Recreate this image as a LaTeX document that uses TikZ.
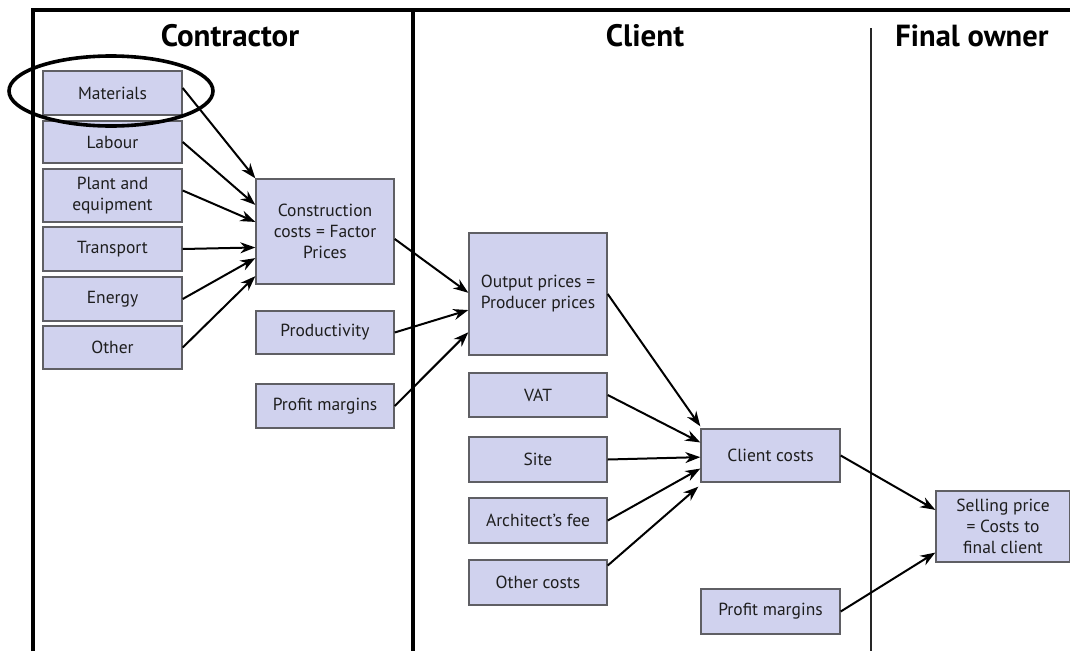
\documentclass[tikz,border=0pt]{standalone}
\usepackage{fontspec}
\setmainfont{PT Sans}
\usetikzlibrary{arrows.meta,calc,shapes.geometric}
\definecolor{boxfill}{RGB}{208,210,238}
\definecolor{boxline}{RGB}{95,95,100}
\definecolor{txt}{RGB}{30,30,30}
\tikzset{
  box/.style={draw=boxline, line width=1.4pt, fill=boxfill, text=txt, align=center,
    inner sep=0pt, font=\fontsize{17.5}{21}\selectfont},
  hdr/.style={font=\fontsize{31}{34}\selectfont\bfseries, text=black, inner sep=0pt},
  arr/.style={line width=2pt, -{Stealth[length=15pt,width=11pt]}},
  frame/.style={line width=3.6pt, black},
}
\begin{document}
\begin{tikzpicture}[x=1pt,y=-1pt]
\useasboundingbox (0,0) rectangle (1070,651);
% frame lines
\coordinate (tl) at (33,10);
\coordinate (tr) at (1070,10);
\coordinate (bl) at (33,651);
\coordinate (mt) at (413,10);
\coordinate (mb) at (413,651);
\coordinate (st) at (871,28);
\coordinate (sb) at (871,651);
\draw[frame] (bl) -- (tl) -- (tr);
\draw[frame] (mt) -- (mb);
\draw[line width=1.2pt, black!85] (st) -- (sb);
% headers
\node[hdr] (hCon) at (230,36) {Contractor};
\node[hdr] (hCli) at (645,36) {Client};
\node[hdr, font=\fontsize{30.5}{33}\selectfont\bfseries] (hFin) at (972,36) {Final owner};
% contractor inputs
\node[box, minimum width=139, minimum height=44] (mat) at (112.5,93) {Materials};
\node[box, minimum width=139, minimum height=42] (lab) at (112.5,142) {Labour};
\node[box, minimum width=139, minimum height=53] (pla) at (112.5,195.5) {Plant and\\equipment};
\node[box, minimum width=139, minimum height=44] (tra) at (112.5,249) {Transport};
\node[box, minimum width=139, minimum height=44] (ene) at (112.5,299) {Energy};
\node[box, minimum width=139, minimum height=43] (oth) at (112.5,347.5) {Other};
\node[box, minimum width=138, minimum height=105] (con) at (325,231.5) {Construction\\costs = Factor\\Prices};
\node[box, minimum width=138, minimum height=43] (pro) at (325,332.5) {Productivity};
\node[box, minimum width=138, minimum height=44] (pm1) at (325,406) {Profit margins};
% client
\node[box, minimum width=138, minimum height=122] (out) at (538,294) {Output prices =\\Producer prices};
\node[box, minimum width=138, minimum height=44] (vat) at (538,395) {VAT};
\node[box, minimum width=138, minimum height=45] (sit) at (538,459.5) {Site};
\node[box, minimum width=138, minimum height=45] (arc) at (538,520.5) {Architect’s fee};
\node[box, minimum width=138, minimum height=45] (ocs) at (538,582.5) {Other costs};
\node[box, minimum width=139, minimum height=53] (cli) at (770.5,455.5) {Client costs};
\node[box, minimum width=139, minimum height=45] (pm2) at (770.5,611.5) {Profit margins};
% final owner
\node[box, minimum width=134, minimum height=71] (sel) at (1003,526.5) {Selling price\\= Costs to\\final client};
% highlight ellipse
\node[ellipse, draw=black, line width=3.6pt, minimum width=204, minimum height=70, inner sep=0pt] (ell) at (111,91) {};
% arrows
\draw[arr] ($(mat.east)+(0,-5)$) -- (con.north west);
\draw[arr] (lab.east) -- ($(con.north west)!0.25!(con.south west)$);
\draw[arr] ($(pla.east)+(0,-5)$) -- ($(con.north west)!0.41!(con.south west)$);
\draw[arr] (tra.east) -- ($(con.north west)!0.65!(con.south west)$);
\draw[arr] (ene.east) -- ($(con.north west)!0.75!(con.south west)$);
\draw[arr] (oth.east) -- ($(con.north west)!0.92!(con.south west)$);
\draw[arr] ($(con.north east)!0.57!(con.south east)$) -- ($(out.north west)!0.49!(out.south west)$);
\draw[arr] (pro.east) -- ($(out.north west)!0.63!(out.south west)$);
\draw[arr] (pm1.east) -- ($(out.north west)!0.81!(out.south west)$);
\draw[arr] (out.east) -- ($(cli.north west)+(0,-2)$);
\draw[arr] (vat.east) -- ($(cli.north west)!0.26!(cli.south west)$);
\draw[arr] (sit.east) -- ($(cli.north west)!0.53!(cli.south west)$);
\draw[arr] (arc.east) -- ($(cli.north west)!0.74!(cli.south west)$);
\draw[arr] ($(ocs.east)+(0,-17)$) -- ($(cli.south west)+(-2,4)$);
\draw[arr] (cli.east) -- ($(sel.north west)!0.27!(sel.south west)$);
\draw[arr] (pm2.east) -- ($(sel.north west)!0.86!(sel.south west)$);
\end{tikzpicture}
\end{document}
